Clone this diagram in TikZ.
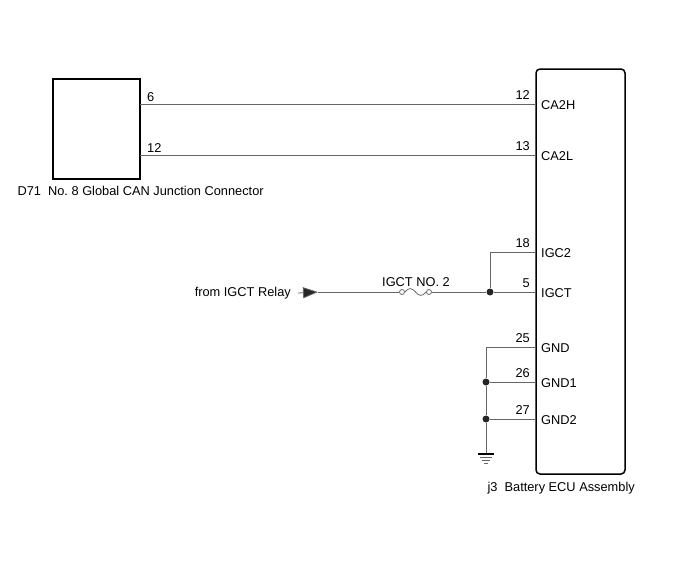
\documentclass[tikz,border=0pt]{standalone}
\usepackage{fontspec}
\setmainfont{Liberation Sans}
\usetikzlibrary{arrows.meta}
\tikzset{
  wire/.style={draw=black!60,line width=0.8pt},
  unit/.style={draw,line width=1.5pt,inner sep=0pt},
  joint/.style={circle,fill=black!85,inner sep=0pt,minimum size=7pt},
  fuseend/.style={circle,draw=black!60,fill=white,line width=0.8pt,inner sep=0pt,minimum size=5pt}
}
\begin{document}
\begin{tikzpicture}[x=1pt,y=-1pt,font=\fontsize{12.8}{15}\selectfont]
   \useasboundingbox (0,0) rectangle (688,560);
   % the two units
   \node (jc) at (96.5,129) [unit,minimum width=87pt,minimum height=100pt] {};
   \node (ecu) at (580.5,271.5) [unit,rounded corners=4pt,minimum width=89pt,minimum height=405pt] {};
   \node (jcname) at (14,191) [anchor=west] {D71\ \ No.\ 8 Global CAN Junction Connector};
   \node (ecuname) at (484,488) [anchor=west] {j3\ \ Battery ECU Assembly};
   % pins of the ECU
   \foreach \y/\num/\name in {104/12/CA2H,155/13/CA2L,252/18/IGC2,292/5/IGCT,347/25/GND,382/26/GND1,419/27/GND2} {
     \coordinate (pin\name) at (536,\y);
     \node (num\name) at ([xshift=-5pt,yshift=3pt]pin\name) [anchor=south east,inner sep=1pt] {\num};
     \node (lbl\name) at ([xshift=4pt,yshift=-1pt]pin\name) [anchor=west,inner sep=1pt] {\name};
   }
   % pins of the junction connector
   \coordinate (jc6) at (140,104);
   \coordinate (jc12) at (140,155);
   \node (num6) at ([xshift=6pt,yshift=1.5pt]jc6) [anchor=south west,inner sep=1pt] {6};
   \node (num12) at ([xshift=6pt,yshift=1.5pt]jc12) [anchor=south west,inner sep=1pt] {12};
   \draw[wire] (jc6) -- (pinCA2H);
   \draw[wire] (jc12) -- (pinCA2L);
   % power in through the fuse
   \node (relay) at (292,293) [anchor=east,inner sep=1pt] {from IGCT Relay};
   \coordinate (tip) at (318,292);
   \node (fuseA) at (402,292) [fuseend] {};
   \node (fuseB) at (429,292) [fuseend] {};
   \node (fusename) at (416,288) [anchor=south,inner sep=1pt] {IGCT NO. 2};
   \node (jIG) at (490,292) [joint] {};
   \draw[wire,-{Triangle[length=15pt,width=11pt,fill=black!85]}] ([xshift=6pt]relay.east) -- (tip);
   \draw[wire] (tip) -- (fuseA);
   \draw[wire] (fuseA.east) .. controls (409,287) and (412,288) .. (415.5,292)
                            .. controls (419,296) and (422,297) .. (fuseB.west);
   \draw[wire] (fuseB) -- (jIG) -- (pinIGCT);
   \draw[wire] (jIG) |- (pinIGC2);
   % ground
   \node (jG1) at (486,382) [joint] {};
   \node (jG2) at (486,419) [joint] {};
   \coordinate (earth) at (486,454);
   \draw[wire] (pinGND) -| (jG1) -- (jG2) -- (earth);
   \draw[wire] (jG1) -- (pinGND1);
   \draw[wire] (jG2) -- (pinGND2);
   \draw[line width=1.5pt] ([xshift=-8pt]earth) -- ([xshift=8pt]earth);
   \draw[wire] ([xshift=-6pt,yshift=-3pt]earth) -- ([xshift=6pt,yshift=-3pt]earth);
   \draw[wire] ([xshift=-4pt,yshift=-6pt]earth) -- ([xshift=4pt,yshift=-6pt]earth);
   \draw[wire] ([xshift=-2pt,yshift=-9pt]earth) -- ([xshift=2pt,yshift=-9pt]earth);
\end{tikzpicture}
\end{document}
